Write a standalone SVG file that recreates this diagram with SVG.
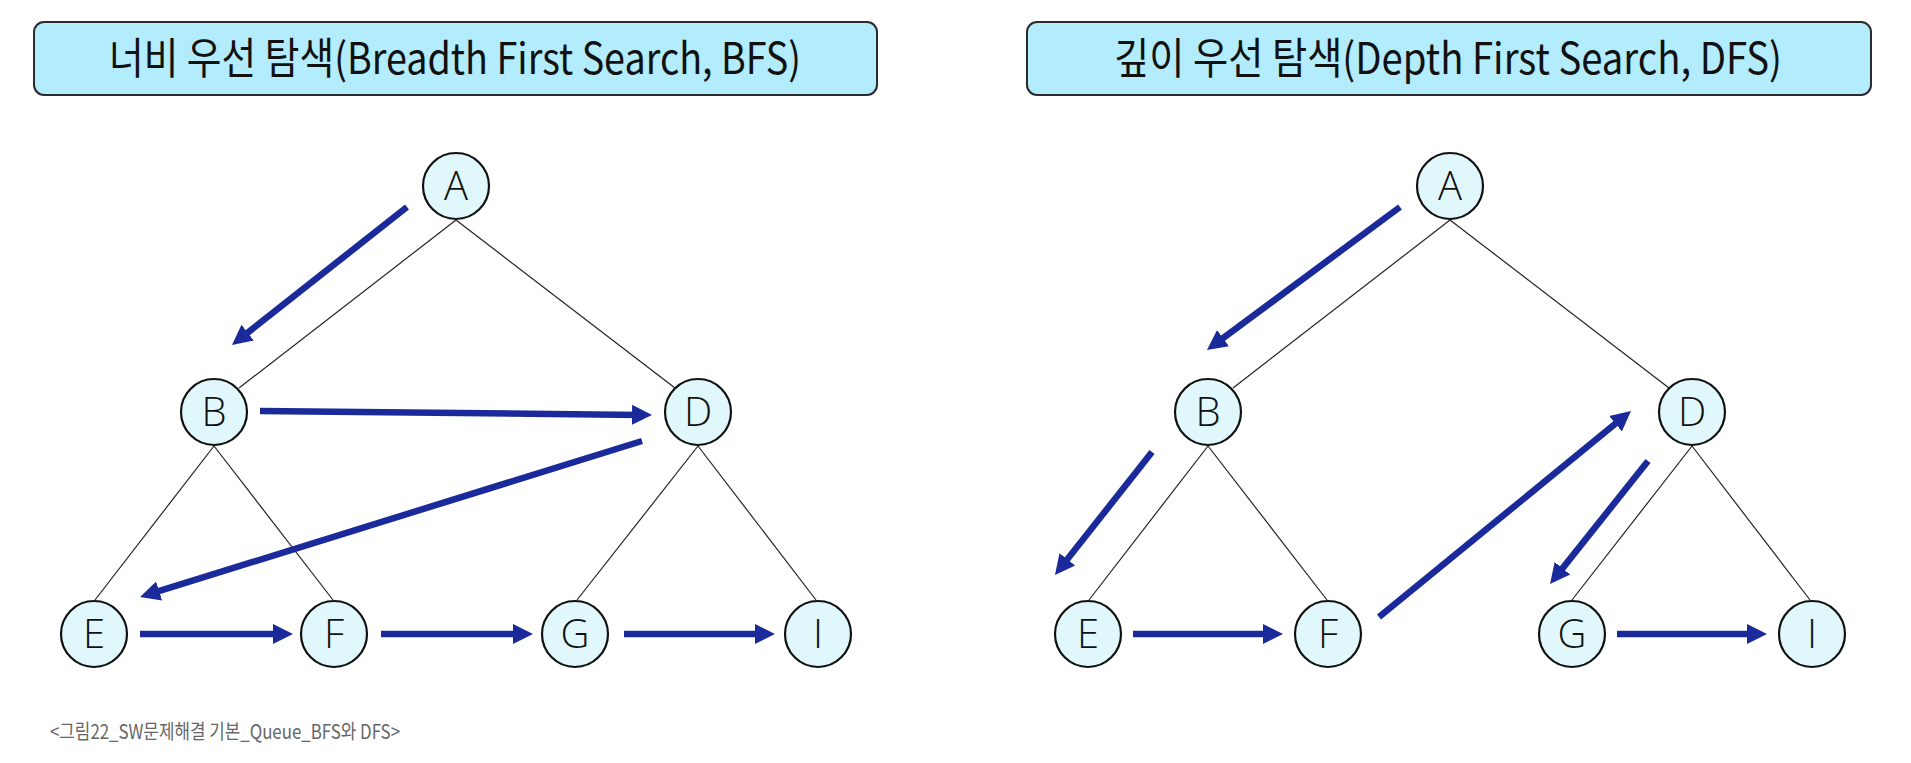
<svg xmlns="http://www.w3.org/2000/svg" width="1911" height="763" viewBox="0 0 1911 763">
<style>
.title-box{fill:#b3ecfc;stroke:#2b2b2b;stroke-width:2}
.title{font-family:"Noto Sans CJK KR","Noto Sans",sans-serif;font-size:43px;fill:#111}
.node circle{fill:#e0f8fc;stroke:#111;stroke-width:2.2}
.node text{font-family:"Open Sans","Noto Sans",sans-serif;font-weight:300;font-size:40px;fill:#111;text-anchor:middle}
.edge{stroke:#222;stroke-width:1.2;fill:none}
.arrow{stroke:#1b2a9b;stroke-width:6.5;fill:none;marker-end:url(#ah)}
.caption{font-family:"Noto Sans CJK KR","Noto Sans",sans-serif;font-size:20px;fill:#666}
</style>
<defs>
<marker id="ah" markerUnits="userSpaceOnUse" markerWidth="22" markerHeight="22" refX="8" refY="10" orient="auto" viewBox="0 0 22 20">
<path d="M0,0 L20,10 L0,20 z" fill="#1b2a9b"/>
</marker>
</defs>
<rect width="1911" height="763" fill="#ffffff"/>
<g id="title-bfs">
<rect class="title-box" x="34" y="22" width="843" height="73" rx="10"/>
<text class="title" x="455" y="74" text-anchor="middle" textLength="692" lengthAdjust="spacingAndGlyphs">너비 우선 탐색(Breadth First Search, BFS)</text>
</g>
<g id="title-dfs">
<rect class="title-box" x="1027" y="22" width="844" height="73" rx="10"/>
<text class="title" x="1448" y="74" text-anchor="middle" textLength="668" lengthAdjust="spacingAndGlyphs">깊이 우선 탐색(Depth First Search, DFS)</text>
</g>
<g id="tree-edges">
<line class="edge" x1="456" y1="220" x2="239" y2="388"/>
<line class="edge" x1="456" y1="220" x2="675" y2="388"/>
<line class="edge" x1="214" y1="446" x2="95" y2="600"/>
<line class="edge" x1="214" y1="446" x2="333" y2="600"/>
<line class="edge" x1="698" y1="446" x2="577" y2="600"/>
<line class="edge" x1="698" y1="446" x2="816" y2="600"/>
<line class="edge" x1="1450" y1="220" x2="1233" y2="388"/>
<line class="edge" x1="1450" y1="220" x2="1669" y2="388"/>
<line class="edge" x1="1208" y1="446" x2="1089" y2="600"/>
<line class="edge" x1="1208" y1="446" x2="1327" y2="600"/>
<line class="edge" x1="1692" y1="446" x2="1572" y2="600"/>
<line class="edge" x1="1692" y1="446" x2="1810" y2="600"/>
</g>
<g id="bfs-A" class="node"><circle cx="456" cy="186" r="33"/><text x="456" y="200">A</text></g>
<g id="bfs-B" class="node"><circle cx="214" cy="412" r="33"/><text x="214" y="426">B</text></g>
<g id="bfs-D" class="node"><circle cx="698" cy="412" r="33"/><text x="698" y="426">D</text></g>
<g id="bfs-E" class="node"><circle cx="94" cy="634" r="33"/><text x="94" y="648">E</text></g>
<g id="bfs-F" class="node"><circle cx="334" cy="634" r="33"/><text x="334" y="648">F</text></g>
<g id="bfs-G" class="node"><circle cx="575" cy="634" r="33"/><text x="575" y="648">G</text></g>
<g id="bfs-I" class="node"><circle cx="818" cy="634" r="33"/><text x="818" y="648">I</text></g>
<g id="dfs-A" class="node"><circle cx="1450" cy="186" r="33"/><text x="1450" y="200">A</text></g>
<g id="dfs-B" class="node"><circle cx="1208" cy="412" r="33"/><text x="1208" y="426">B</text></g>
<g id="dfs-D" class="node"><circle cx="1692" cy="412" r="33"/><text x="1692" y="426">D</text></g>
<g id="dfs-E" class="node"><circle cx="1088" cy="634" r="33"/><text x="1088" y="648">E</text></g>
<g id="dfs-F" class="node"><circle cx="1328" cy="634" r="33"/><text x="1328" y="648">F</text></g>
<g id="dfs-G" class="node"><circle cx="1572" cy="634" r="33"/><text x="1572" y="648">G</text></g>
<g id="dfs-I" class="node"><circle cx="1812" cy="634" r="33"/><text x="1812" y="648">I</text></g>
<g id="connectors">
<line class="arrow" x1="407" y1="207" x2="241.4" y2="337.6"/>
<line class="arrow" x1="260" y1="411" x2="640" y2="414.9"/>
<line class="arrow" x1="642" y1="441" x2="151.5" y2="593.4"/>
<line class="arrow" x1="140" y1="634" x2="281" y2="634"/>
<line class="arrow" x1="381" y1="634" x2="521" y2="634"/>
<line class="arrow" x1="624" y1="634" x2="763" y2="634"/>
<line class="arrow" x1="1400" y1="207" x2="1216.6" y2="342.9"/>
<line class="arrow" x1="1152" y1="452" x2="1062.4" y2="565.6"/>
<line class="arrow" x1="1133" y1="634" x2="1271" y2="634"/>
<line class="arrow" x1="1379" y1="617" x2="1621.7" y2="418.6"/>
<line class="arrow" x1="1648" y1="461" x2="1557.5" y2="574.6"/>
<line class="arrow" x1="1617" y1="634" x2="1755" y2="634"/>
</g>
<text class="caption" x="50" y="739" textLength="350" lengthAdjust="spacingAndGlyphs">&lt;그림22_SW문제해결 기본_Queue_BFS와 DFS&gt;</text>
</svg>
